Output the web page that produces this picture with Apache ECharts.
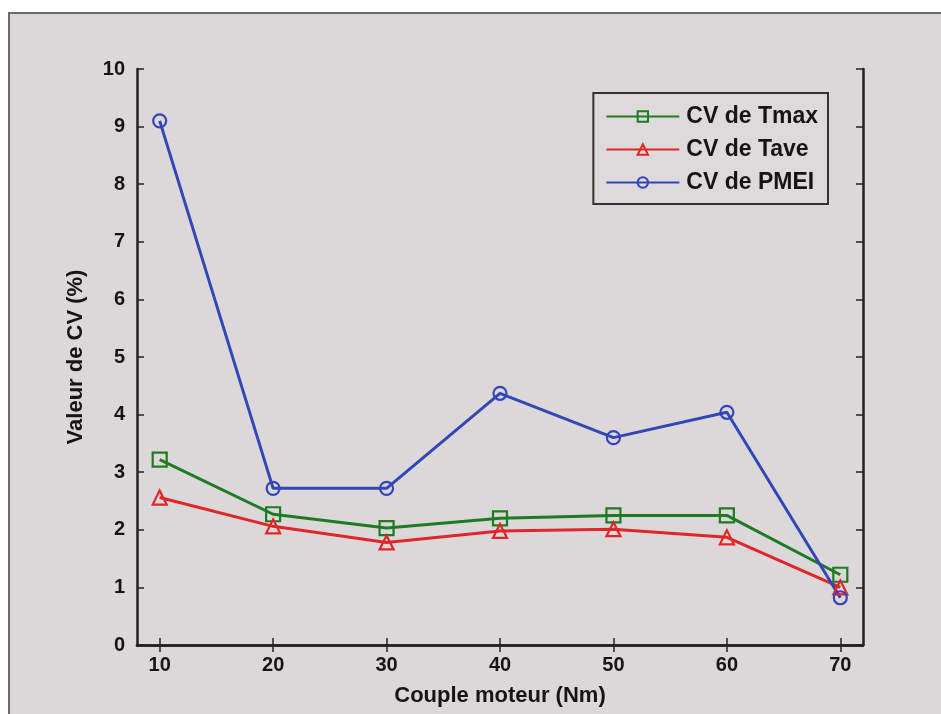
<!DOCTYPE html>
<html><head><meta charset="utf-8">
<script src="https://cdn.jsdelivr.net/npm/echarts@6/dist/echarts.min.js"></script>
<style>html,body{margin:0;padding:0;background:#fff}#c{width:941px;height:714px}</style>
</head><body><div id="c"></div>
<script>
const torque = [10, 20, 30, 40, 50, 60, 70];
const cvTmax = [3.22, 2.27, 2.03, 2.2, 2.25, 2.25, 1.22];
const cvTave = [2.56, 2.06, 1.78, 1.98, 2.01, 1.87, 1.0];
const cvPMEI = [9.1, 2.72, 2.72, 4.37, 3.6, 4.04, 0.82];
const xTicks = [10, 20, 30, 40, 50, 60, 70];
const seriesNames = ['CV de Tmax', 'CV de Tave', 'CV de PMEI'];

const font = '"Liberation Sans", Arial, sans-serif';
const chart = echarts.init(document.getElementById('c'));
const pair = (arr) => torque.map((t, i) => [t, arr[i]]);
const mk = (name, data, color, symbol, size) => ({
  name, type: 'line', data: pair(data), color,
  symbol, symbolSize: size, showSymbol: true,
  lineStyle: { width: 3, color },
  itemStyle: { color: 'rgba(0,0,0,0)', borderColor: color, borderWidth: 2.2 },
  emphasis: { disabled: true }, z: 3
});
chart.setOption({
  animation: false,
  backgroundColor: '#ffffff',
  graphic: [{
    type: 'rect', shape: { x: 9, y: 13, width: 940, height: 710 },
    style: { fill: '#dcd8d9', stroke: '#6a6a6a', lineWidth: 2 }, z: -10
  }],
  grid: { left: 137, top: 69, right: 78, bottom: 69, show: false },
  legend: {
    orient: 'vertical', right: 113, top: 93,
    data: seriesNames,
    itemWidth: 73, itemHeight: 13, itemGap: 10,
    padding: [12, 10, 10, 12],
    borderColor: '#333', borderWidth: 2, backgroundColor: '#dedadb',
    textStyle: { fontFamily: font, fontWeight: 'bold', fontSize: 23, color: '#151515', padding: [0, 0, 0, 2] }
  },
  xAxis: [{
    type: 'value', min: 8, max: 72,
    name: 'Couple moteur (Nm)', nameLocation: 'middle', nameGap: 40,
    nameTextStyle: { fontFamily: font, fontWeight: 'bold', fontSize: 22, color: '#151515' },
    axisLine: { show: true, lineStyle: { color: '#222', width: 2.5 } },
    axisTick: { show: true, inside: true, length: 7, customValues: xTicks, lineStyle: { color: '#222', width: 1.5 } },
    axisLabel: { customValues: xTicks, fontFamily: font, fontWeight: 'bold', fontSize: 20, color: '#151515', margin: 10 },
    splitLine: { show: false }
  }, {
    type: 'value', min: 8, max: 72, position: 'top',
    axisLine: { show: true, lineStyle: { color: '#222', width: 2.5 } },
    axisTick: { show: true, inside: true, length: 7, customValues: xTicks, lineStyle: { color: '#222', width: 1.5 } },
    axisLabel: { show: false }, splitLine: { show: false }
  }],
  yAxis: [{
    type: 'value', min: 0, max: 10, interval: 1,
    name: 'Valeur de CV (%)', nameLocation: 'middle', nameGap: 50,
    nameTextStyle: { fontFamily: font, fontWeight: 'bold', fontSize: 22, color: '#151515' },
    axisLine: { show: true, lineStyle: { color: '#222', width: 2.5 } },
    axisTick: { show: true, inside: true, length: 7, lineStyle: { color: '#222', width: 1.5 } },
    axisLabel: { fontFamily: font, fontWeight: 'bold', fontSize: 20, color: '#151515', margin: 12 },
    splitLine: { show: false }
  }, {
    type: 'value', min: 0, max: 10, interval: 1, position: 'right',
    axisLine: { show: true, lineStyle: { color: '#222', width: 2.5 } },
    axisTick: { show: true, inside: true, length: 7, lineStyle: { color: '#222', width: 1.5 } },
    axisLabel: { show: false }, splitLine: { show: false }
  }],
  series: [
    mk(seriesNames[0], cvTmax, '#1e7a23', 'rect', 14),
    mk(seriesNames[1], cvTave, '#e0262a', 'triangle', 14),
    mk(seriesNames[2], cvPMEI, '#3346b8', 'circle', 13)
  ]
});
</script></body></html>
